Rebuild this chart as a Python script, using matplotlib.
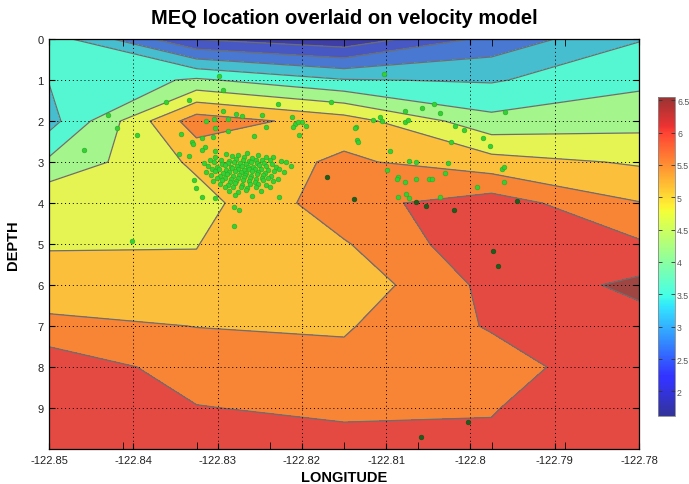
import numpy as np
import matplotlib
matplotlib.use("Agg")
import matplotlib.pyplot as plt
from matplotlib.colors import ListedColormap, Normalize
from matplotlib.cm import ScalarMappable

plt.rcParams['font.family'] = ['Liberation Sans', 'DejaVu Sans']

# velocity model grid (km/s), rows = depth nodes, columns = longitude nodes
model_lon = [-122.85, -122.8325, -122.815, -122.7975, -122.78]
model_depth = [0, 1, 2, 3, 4, 5, 6, 7, 8, 9, 10]
vel = [
    [3.78, 1.98, 1.62, 2.65, 3.47],
    [3.52, 4.08, 3.53, 3.45, 3.88],
    [3.30, 5.78, 5.25, 4.15, 4.32],
    [4.10, 5.10, 5.59, 5.20, 4.94],
    [4.92, 4.80, 5.83, 6.25, 5.52],
    [4.97, 4.99, 5.455, 6.39, 6.065],
    [5.15, 5.07, 5.15, 6.15, 6.62],
    [5.65, 5.49, 5.45, 6.05, 6.31],
    [6.34, 5.77, 5.635, 5.75, 6.415],
    [6.40, 6.02, 5.90, 5.97, 6.45],
    [6.45, 6.20, 6.19, 6.10, 6.45],
]
vel_levels = [1.5, 2, 2.5, 3, 3.5, 4, 4.5, 5, 5.5, 6, 6.5, 7]
band_colors = ['#3e3ea6', '#4758c4', '#4878d2', '#47bdd0', '#55f7d2', '#a3f58c',
               '#e5f453', '#fbbf3c', '#f88436', '#e54a42', '#9f4643']

# micro-earthquakes: main cluster
cluster_lon = [
    -122.8290, -122.8276, -122.8265, -122.8252,
    -122.8303, -122.8283, -122.8269, -122.8259, -122.8243, -122.8234,
    -122.8309, -122.8296, -122.8286, -122.8278, -122.8270, -122.8263, -122.8254, -122.8247, -122.8238, -122.8225,
    -122.8316, -122.8304, -122.8295, -122.8288, -122.8281, -122.8273, -122.8266, -122.8260, -122.8253, -122.8245, -122.8235, -122.8219,
    -122.8311, -122.8301, -122.8291, -122.8284, -122.8277, -122.8271, -122.8264, -122.8258, -122.8251, -122.8243, -122.8231, -122.8213,
    -122.8307, -122.8298, -122.8290, -122.8283, -122.8276, -122.8269, -122.8263, -122.8256, -122.8248, -122.8240, -122.8227,
    -122.8314, -122.8303, -122.8294, -122.8286, -122.8279, -122.8272, -122.8266, -122.8259, -122.8252, -122.8244, -122.8233, -122.8221,
    -122.8308, -122.8297, -122.8289, -122.8282, -122.8275, -122.8267, -122.8260, -122.8253, -122.8246, -122.8237,
    -122.8301, -122.8291, -122.8284, -122.8276, -122.8269, -122.8262, -122.8254, -122.8247, -122.8240, -122.8228,
    -122.8305, -122.8295, -122.8285, -122.8278, -122.8270, -122.8263, -122.8256, -122.8246, -122.8234,
    -122.8297, -122.8288, -122.8279, -122.8271, -122.8262, -122.8252, -122.8243,
    -122.8291, -122.8282, -122.8272, -122.8265, -122.8254, -122.8238,
    -122.8286, -122.8276, -122.8266, -122.8248,
    -122.8279, -122.8259,
]
cluster_dep = [
    2.80, 2.83, 2.79, 2.82,
    2.89, 2.86, 2.88, 2.90, 2.87, 2.89,
    2.96, 2.94, 2.97, 2.93, 2.95, 2.97, 2.94, 2.96, 2.95, 2.98,
    3.03, 3.01, 3.04, 3.02, 3.00, 3.03, 3.05, 3.01, 3.03, 3.02, 3.04, 3.01,
    3.09, 3.11, 3.08, 3.12, 3.10, 3.09, 3.11, 3.13, 3.08, 3.10, 3.12, 3.09,
    3.18, 3.16, 3.19, 3.15, 3.17, 3.20, 3.16, 3.18, 3.17, 3.19, 3.16,
    3.25, 3.23, 3.26, 3.24, 3.22, 3.25, 3.27, 3.23, 3.24, 3.26, 3.22, 3.25,
    3.31, 3.33, 3.30, 3.34, 3.32, 3.31, 3.33, 3.30, 3.32, 3.34,
    3.40, 3.38, 3.41, 3.39, 3.37, 3.40, 3.42, 3.38, 3.39, 3.41,
    3.47, 3.45, 3.48, 3.46, 3.44, 3.47, 3.49, 3.45, 3.46,
    3.53, 3.55, 3.52, 3.56, 3.54, 3.53, 3.55,
    3.60, 3.62, 3.61, 3.63, 3.60, 3.62,
    3.70, 3.72, 3.69, 3.71,
    3.80, 3.82,
]

# scattered shallow events
scatter_lon = [
    -122.8298, -122.8294, -122.8361, -122.8334, -122.8228, -122.8165, -122.8430, -122.8419,
    -122.8396, -122.8458, -122.8294, -122.8278, -122.8271, -122.8247, -122.8212, -122.8314,
    -122.8304, -122.8288, -122.8303, -122.8288, -122.8243, -122.8208, -122.8205, -122.8200,
    -122.8195, -122.8210, -122.8203, -122.8343, -122.8318, -122.8305, -122.8330, -122.8329,
    -122.8257, -122.8315, -122.8319, -122.8303, -122.8346, -122.8334, -122.8328, -122.8326,
    -122.8319, -122.8303, -122.8281, -122.8274, -122.8281, -122.8227, -122.8401,
    -122.8102, -122.8078, -122.8058, -122.8043, -122.8036, -122.7959, -122.8116, -122.8107,
    -122.8105, -122.8078, -122.8074, -122.8136, -122.8137, -122.8134, -122.8133, -122.8018,
    -122.8008, -122.8023, -122.7985, -122.7977, -122.8095, -122.8073, -122.8065, -122.8027,
    -122.8030, -122.8099, -122.7962, -122.7960, -122.8086, -122.8087, -122.8078, -122.8064,
    -122.8049, -122.8046, -122.7960, -122.7992, -122.8086, -122.8076, -122.8073, -122.8036,
]
scatter_dep = [
    0.91, 1.24, 1.53, 1.49, 1.59, 1.53, 1.85, 2.17,
    2.33, 2.70, 1.75, 1.83, 1.89, 1.85, 1.90, 1.99,
    1.95, 1.95, 2.17, 2.25, 2.15, 2.07, 2.03, 2.03,
    2.13, 2.14, 2.34, 2.32, 2.41, 2.40, 2.52, 2.56,
    2.36, 2.64, 2.70, 2.72, 2.81, 2.86, 3.43, 3.63,
    3.85, 3.89, 4.10, 4.16, 4.57, 3.86, 4.93,
    0.85, 1.75, 1.69, 1.58, 1.80, 1.78, 1.98, 1.90,
    2.00, 2.02, 1.98, 2.15, 2.17, 2.46, 2.50, 2.13,
    2.21, 2.52, 2.42, 2.60, 2.72, 2.98, 3.01, 3.03,
    3.26, 3.20, 3.16, 3.13, 3.37, 3.41, 3.48, 3.41,
    3.42, 3.42, 3.49, 3.61, 3.85, 3.78, 3.87, 3.86,
]

# deeper events (drawn darker)
deep_lon = [-122.8170, -122.8138, -122.8065, -122.8053, -122.8020, -122.7945,
            -122.7973, -122.7967, -122.8003, -122.8059]
deep_dep = [3.37, 3.90, 3.97, 4.08, 4.16, 3.95, 5.17, 5.54, 9.33, 9.70]

lon_ticks = [-122.85, -122.84, -122.83, -122.82, -122.81, -122.80, -122.79, -122.78]
lon_labels = ['-122.85', '-122.84', '-122.83', '-122.82', '-122.81', '-122.8', '-122.79', '-122.78']
depth_ticks = [0, 1, 2, 3, 4, 5, 6, 7, 8, 9]
cbar_ticks = [2, 2.5, 3, 3.5, 4, 4.5, 5, 5.5, 6, 6.5]

fig = plt.figure(figsize=(6.89, 4.85), dpi=100)
ax = fig.add_axes([49 / 689, 35 / 485, 590 / 689, 410 / 485])

ax.contourf(model_lon, model_depth, vel, levels=vel_levels, colors=band_colors, zorder=1)
ax.contour(model_lon, model_depth, vel, levels=vel_levels[1:-1], colors='#6e6e6e',
           linewidths=0.9, zorder=1.5)

ax.plot(cluster_lon + scatter_lon, cluster_dep + scatter_dep, 'o', ms=3.4,
        mfc='#36cf36', mec='#22b022', mew=0.4, zorder=4)
ax.plot(deep_lon, deep_dep, 'o', ms=3.4, mfc='#1d5e1d', mec='#164a16', mew=0.4, zorder=4)

ax.set_xlim(-122.85, -122.78)
ax.set_ylim(10, 0)
ax.set_xticks(lon_ticks)
ax.set_xticklabels(lon_labels)
ax.set_yticks(depth_ticks)
ax.set_xticks(np.linspace(-122.85, -122.78, 9), minor=True)
ax.tick_params(which='major', direction='in', top=True, right=True, length=4,
               labelsize=8, pad=4, labelcolor='#222222')
ax.tick_params(which='minor', direction='in', top=True, bottom=True, length=5)
ax.grid(True, which='major', color='k', linestyle=(0, (1, 3)), linewidth=0.7)
ax.set_axisbelow(False)
for s in ax.spines.values():
    s.set_linewidth(0.9)

fig.text(344 / 689, 1 - 18 / 485, 'MEQ location overlaid on velocity model',
         ha='center', va='center', fontsize=14.5, fontweight='bold')
fig.text(344 / 689, 1 - 478 / 485, 'LONGITUDE', ha='center', va='center',
         fontsize=10.5, fontweight='bold')
fig.text(13 / 689, 1 - 245 / 485, 'DEPTH', ha='center', va='center', rotation=90,
         fontsize=10.5, fontweight='bold')

# colorbar
jet = plt.get_cmap('jet')(np.linspace(0, 1, 256))
jet[:, :3] = jet[:, :3] * 0.8 + 0.2
cax = fig.add_axes([658 / 689, 68 / 485, 17 / 689, 319 / 485])
cb = fig.colorbar(ScalarMappable(norm=Normalize(1.62, 6.55), cmap=ListedColormap(jet)),
                  cax=cax, ticks=cbar_ticks)
cb.ax.set_yticklabels(['2', '2.5', '3', '3.5', '4', '4.5', '5', '5.5', '6', '6.5'])
cb.ax.tick_params(direction='in', left=True, right=True, length=3, width=0.6,
                  color='#333333', labelsize=6.3, labelcolor='#555555', pad=1.5)
cb.outline.set_edgecolor('#888888')
cb.outline.set_linewidth(0.6)

fig.savefig('out.png', dpi=100)
